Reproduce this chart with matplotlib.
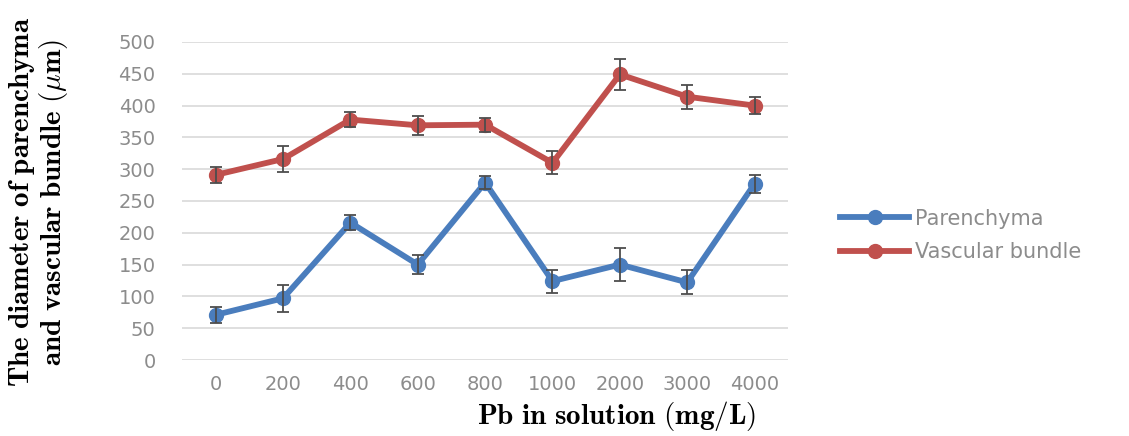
import numpy as np
import matplotlib
matplotlib.use("Agg")
import matplotlib.pyplot as plt

# Pb concentrations (category axis)
pb_levels = ["0", "200", "400", "600", "800", "1000", "2000", "3000", "4000"]

# diameters (um)
parenchyma = [71, 97, 216, 150, 279, 124, 150, 122, 277]
parenchyma_err = [13, 21, 12, 15, 10, 18, 26, 19, 14]

vascular = [291, 316, 378, 369, 370, 310, 449, 414, 400]
vascular_err = [13, 21, 12, 15, 11, 18, 25, 19, 14]

y_ticks = [0, 50, 100, 150, 200, 250, 300, 350, 400, 450, 500]

blue = "#4a7dbd"
red = "#c0504d"
tick_gray = "#8c8c8c"


def main():
    plt.rcParams["mathtext.fontset"] = "cm"

    fig = plt.figure(figsize=(11.29, 4.36), dpi=100)
    ax = fig.add_axes([0.1612, 0.1743, 0.537, 0.7294])

    x = np.arange(len(pb_levels))

    ax.plot(x, parenchyma, color=blue, lw=4.2, marker="o", ms=10,
            label="Parenchyma", zorder=3)
    ax.plot(x, vascular, color=red, lw=4.2, marker="o", ms=10,
            label="Vascular bundle", zorder=3)
    ax.errorbar(x, parenchyma, yerr=parenchyma_err, fmt="none",
                ecolor="#4d4d4d", elinewidth=1.3, capsize=4.5, capthick=1.3, zorder=4)
    ax.errorbar(x, vascular, yerr=vascular_err, fmt="none",
                ecolor="#4d4d4d", elinewidth=1.3, capsize=4.5, capthick=1.3, zorder=4)

    ax.set_xlim(-0.5, len(pb_levels) - 0.5)
    ax.set_ylim(0, 500)
    ax.set_yticks(y_ticks)
    ax.set_xticks(x)
    ax.set_xticklabels(pb_levels)
    ax.yaxis.grid(True, color="#d9d9d9", lw=1.2)
    ax.set_axisbelow(True)
    for s in ax.spines.values():
        s.set_visible(False)
    ax.tick_params(axis="both", length=0, labelsize=14, colors=tick_gray)
    ax.tick_params(axis="y", pad=19)
    ax.tick_params(axis="x", pad=11)

    # bold Computer Modern, like the LaTeX labels of the original
    fig.text(0.034, 0.536,
             r"$\mathbf{The\ diameter\ of\ parenchyma}$" + "\n"
             + r"$\mathbf{and\ vascular\ bundle\ (\mu m)}$",
             rotation=90, ha="center", va="center", fontsize=21,
             linespacing=1.0, multialignment="center")
    fig.text(0.546, 0.045, r"$\mathbf{Pb\ in\ solution\ (mg/L)}$",
             ha="center", va="center", fontsize=21)

    fig.legend(loc="center left", bbox_to_anchor=(0.735, 0.46), frameon=False,
               fontsize=15, handlelength=3.3, handletextpad=0.3, labelspacing=0.65,
               borderpad=0, labelcolor=tick_gray)

    fig.savefig("out.png", dpi=100)
    plt.close(fig)


if __name__ == "__main__":
    main()
